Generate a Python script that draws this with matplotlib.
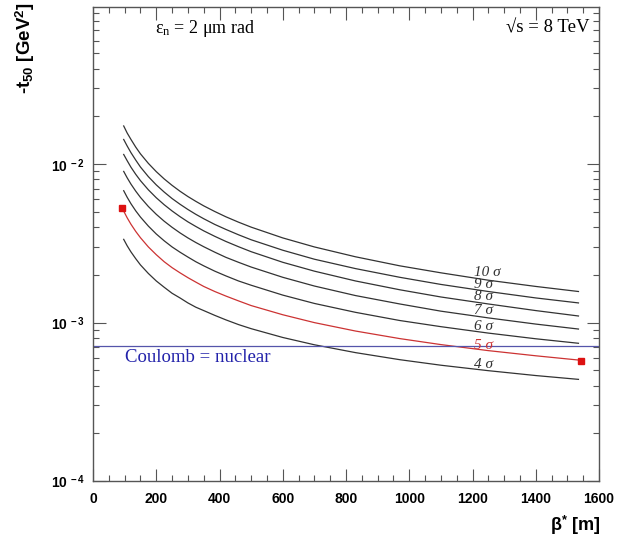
import matplotlib
matplotlib.use('Agg')
import matplotlib.pyplot as plt
import matplotlib.ticker as ticker
import numpy as np

# beta* grid [m] and -t50 [GeV^2] for each n-sigma curve
beta = [97, 108, 120, 135, 150, 175, 200, 225, 250, 275, 300, 325, 350,
        385, 420, 460, 500, 600, 700, 830, 970, 1100, 1250, 1400, 1535]
t_10 = [1.74e-2, 1.57e-2, 1.43e-2, 1.28e-2, 1.16e-2, 1.01e-2, 8.96e-3, 8.06e-3, 7.34e-3, 6.74e-3, 6.24e-3, 5.82e-3, 5.45e-3,
        5.02e-3, 4.65e-3, 4.30e-3, 4.00e-3, 3.42e-3, 3.00e-3, 2.60e-3, 2.28e-3, 2.06e-3, 1.85e-3, 1.69e-3, 1.57e-3]
t_9 = [1.43e-2, 1.30e-2, 1.18e-2, 1.06e-2, 9.58e-3, 8.33e-3, 7.39e-3, 6.66e-3, 6.06e-3, 5.58e-3, 5.17e-3, 4.82e-3, 4.52e-3,
       4.16e-3, 3.87e-3, 3.58e-3, 3.33e-3, 2.86e-3, 2.51e-3, 2.19e-3, 1.93e-3, 1.74e-3, 1.57e-3, 1.43e-3, 1.33e-3]
t_8 = [1.15e-2, 1.05e-2, 9.55e-3, 8.62e-3, 7.86e-3, 6.88e-3, 6.13e-3, 5.54e-3, 5.06e-3, 4.66e-3, 4.32e-3, 4.04e-3, 3.79e-3,
       3.50e-3, 3.25e-3, 3.01e-3, 2.80e-3, 2.40e-3, 2.11e-3, 1.83e-3, 1.61e-3, 1.45e-3, 1.31e-3, 1.19e-3, 1.10e-3]
t_7 = [8.99e-3, 8.19e-3, 7.47e-3, 6.75e-3, 6.16e-3, 5.40e-3, 4.82e-3, 4.36e-3, 3.99e-3, 3.68e-3, 3.42e-3, 3.20e-3, 3.01e-3,
       2.78e-3, 2.58e-3, 2.40e-3, 2.24e-3, 1.93e-3, 1.70e-3, 1.48e-3, 1.31e-3, 1.18e-3, 1.07e-3, 9.78e-4, 9.10e-4]
t_6 = [6.79e-3, 6.17e-3, 5.62e-3, 5.07e-3, 4.63e-3, 4.06e-3, 3.62e-3, 3.28e-3, 3.00e-3, 2.78e-3, 2.59e-3, 2.42e-3, 2.28e-3,
       2.11e-3, 1.97e-3, 1.83e-3, 1.72e-3, 1.49e-3, 1.32e-3, 1.16e-3, 1.03e-3, 9.42e-4, 8.58e-4, 7.90e-4, 7.40e-4]
t_5 = [5.05e-3, 4.58e-3, 4.17e-3, 3.76e-3, 3.43e-3, 3.00e-3, 2.68e-3, 2.42e-3, 2.22e-3, 2.06e-3, 1.92e-3, 1.80e-3, 1.69e-3,
       1.57e-3, 1.47e-3, 1.37e-3, 1.28e-3, 1.12e-3, 9.99e-4, 8.84e-4, 7.92e-4, 7.26e-4, 6.65e-4, 6.17e-4, 5.80e-4]
t_4 = [3.35e-3, 3.05e-3, 2.79e-3, 2.53e-3, 2.31e-3, 2.04e-3, 1.83e-3, 1.67e-3, 1.53e-3, 1.43e-3, 1.33e-3, 1.25e-3, 1.19e-3,
       1.11e-3, 1.04e-3, 9.71e-4, 9.15e-4, 8.05e-4, 7.24e-4, 6.46e-4, 5.83e-4, 5.38e-4, 4.97e-4, 4.63e-4, 4.38e-4]

# red end points of the 5 sigma curve
square_beta = [91, 1542]
square_t = [5.27e-3, 5.71e-4]

coulomb_t = 7.16e-4

labels = ['10 σ', '9 σ', '8 σ', '7 σ', '6 σ', '5 σ', '4 σ']
label_t = [2.06e-3, 1.75e-3, 1.47e-3, 1.20e-3, 9.41e-4, 7.21e-4, 5.45e-4]
label_beta = 1205

curves = [t_10, t_9, t_8, t_7, t_6, t_5, t_4]

plt.rcParams['mathtext.fontset'] = 'custom'
plt.rcParams['mathtext.rm'] = 'Liberation Serif'
plt.rcParams['mathtext.it'] = 'Liberation Serif:italic'
plt.rcParams['mathtext.bf'] = 'Liberation Sans:bold'

fig = plt.figure(figsize=(6.21, 5.38), dpi=100)
ax = fig.add_axes([0.1498, 0.1059, 0.8148, 0.8811])

frame = '#555555'
for i, c in enumerate(curves):
    col = '#cc3333' if labels[i] == '5 σ' else '#333333'
    ax.plot(beta, c, color=col, lw=0.9)
    ax.text(label_beta, label_t[i], labels[i], color=col, fontsize=11,
            family='Liberation Serif', style='italic', va='center', ha='left')

ax.plot(square_beta, square_t, 's', color='#dd1111', ms=4, ls='none')
ax.axhline(coulomb_t, color='#5555aa', lw=0.9)
ax.text(101, 6.06e-4, 'Coulomb = nuclear', color='#2222aa', fontsize=13.5,
        family='Liberation Serif', va='center', ha='left')

ax.text(0.123, 0.955, r'ε$_{\rm n}$ = 2 μm rad', transform=ax.transAxes,
        fontsize=13, family='Liberation Serif', va='center', ha='left')
ax.text(0.982, 0.955, '√s = 8 TeV', transform=ax.transAxes,
        fontsize=13.5, family='Liberation Serif', va='center', ha='right')

ax.set_yscale('log')
ax.set_xlim(0, 1600)
ax.set_ylim(1e-4, 0.098)

ax.xaxis.set_major_locator(ticker.MultipleLocator(200))
ax.xaxis.set_minor_locator(ticker.MultipleLocator(50))
ax.yaxis.set_major_locator(ticker.LogLocator(base=10, numticks=10))
ax.yaxis.set_minor_locator(ticker.LogLocator(base=10, subs=np.arange(2, 10), numticks=20))
ax.yaxis.set_minor_formatter(ticker.NullFormatter())


def log_fmt(v, pos):
    e = int(round(np.log10(v)))
    return r'$\mathbf{10}^{\mathbf{\ %d}}$' % e


ax.yaxis.set_major_formatter(ticker.FuncFormatter(log_fmt))

ax.tick_params(which='both', direction='in', top=True, right=True, color=frame, width=0.8)
ax.tick_params(which='major', length=9, labelsize=10)
ax.tick_params(axis='x', which='major', pad=8)
ax.tick_params(axis='y', which='major', pad=6)
ax.tick_params(which='minor', length=4.5)
for lab in ax.get_xticklabels():
    lab.set_fontweight('bold')
    lab.set_family('Liberation Sans')
for s in ax.spines.values():
    s.set_color(frame)
    s.set_linewidth(1.0)

fig.text(25 / 621, 1 - 2 / 538, r'-t$_{\mathbf{50}}$ [GeV$^{\mathbf{2}}$]', rotation=90,
         fontsize=13.5, fontweight='bold', family='Liberation Sans', ha='center', va='top')
fig.text(600 / 621, 1 - 525 / 538, r'β$^{\mathbf{*}}$ [m]', fontsize=13,
         fontweight='bold', family='Liberation Sans', ha='right', va='center')

plt.savefig('out.png', dpi=100)
